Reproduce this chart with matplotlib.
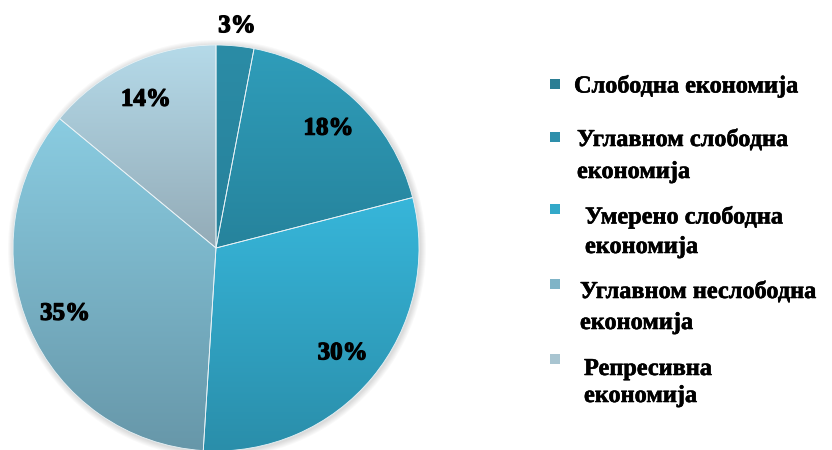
import numpy as np
import matplotlib.pyplot as plt
import matplotlib.patheffects as pe
from matplotlib.colors import LinearSegmentedColormap

labels = ['Слободна економија', 'Углавном слободна\nекономија', 'Умерено слободна\nекономија',
          'Углавном неслободна\nекономија', 'Репресивна\nекономија']
shares = [3, 18, 30, 35, 14]
top_cols = ['#2b8ca6', '#2f9dba', '#37b6da', '#8acce1', '#b5dae9']
bot_cols = ['#27819b', '#26839c', '#2a8eaa', '#6797a9', '#93abb7']
leg_cols = ['#2b7e94', '#2e8fab', '#33a9c9', '#7fb4c7', '#a9c5d1']

W, H = 832, 450
fig = plt.figure(figsize=(W / 100, H / 100), dpi=100)
ax = fig.add_axes([0, 0, 1, 1])
ax.axis('off')

cx, cy, R = 216, H - 248, 203

# faint shadow round the pie
for k in range(6):
    ax.add_patch(plt.Circle((cx + 1, cy - 1), R + 1 + k, color='#000000', alpha=0.025, lw=0))

wedges, _, texts = ax.pie(shares, startangle=90, counterclock=False, center=(cx, cy), radius=R,
                          autopct='%.0f%%', pctdistance=0.81,
                          wedgeprops=dict(edgecolor='#e8f2f6', linewidth=0.6),
                          textprops=dict(family='Liberation Serif', weight='bold', fontsize=18,
                                         color='black'))
ax.set_xlim(0, W)
ax.set_ylim(0, H)
ax.set_aspect('equal')

# gradient fill inside each wedge
for w, c0, c1 in zip(wedges, top_cols, bot_cols):
    ext = w.get_path().get_extents()
    y0, y1 = max(ext.y0, cy - R), min(ext.y1, cy + R)
    cmap = LinearSegmentedColormap.from_list('g', [c1, c0])
    grad = np.linspace(0, 1, 256).reshape(-1, 1)
    im = ax.imshow(grad, extent=(cx - R, cx + R, y0, y1), origin='lower', cmap=cmap,
                   aspect='auto', zorder=w.get_zorder() + 0.1)
    im.set_clip_path(w)
    w.set_facecolor('none')
    w.set_zorder(w.get_zorder() + 0.2)

for t in texts:
    t.set_zorder(5)
    t.set_path_effects([pe.withStroke(linewidth=0.9, foreground='black')])

# small slice label sits outside the pie
w0 = wedges[0]
mid = np.deg2rad((w0.theta1 + w0.theta2) / 2)
texts[0].set_position((cx + 1.1 * R * np.cos(mid), cy + 1.1 * R * np.sin(mid)))

# legend, drawn by hand (uneven spacing in the original)
marker_y = [84, 137, 209, 284, 359]
line_y = [[84], [138, 170], [215, 245], [290, 321], [367, 394]]
line_x = [574, 577, 585, 580, 584]
for lab, col, my, ly, lx in zip(labels, leg_cols, marker_y, line_y, line_x):
    ax.add_patch(plt.Rectangle((550, H - my - 5), 10, 10, color=col, lw=0))
    for part, y in zip(lab.split('\n'), ly):
        ax.text(lx, H - y, part, family='Liberation Serif', weight='bold', fontsize=17.5,
                va='center_baseline', ha='left',
                path_effects=[pe.withStroke(linewidth=0.4, foreground='black')])

fig.savefig('out.png', dpi=100)
